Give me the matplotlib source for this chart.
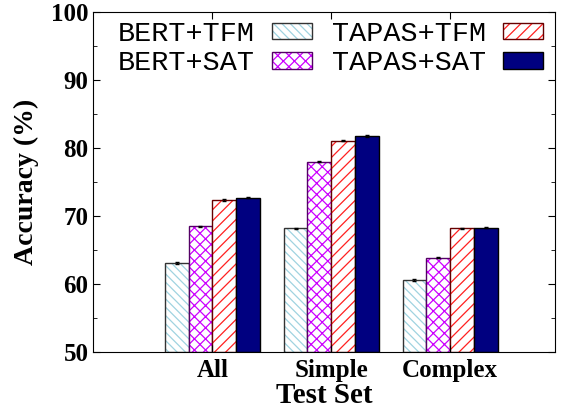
import numpy as np
import matplotlib.pyplot as plt
from matplotlib.patches import Patch
from matplotlib.legend_handler import HandlerTuple

# Datos
grupos = ["All", "Simple", "Complex"]
series = ["BERT+TFM", "BERT+SAT", "TAPAS+TFM", "TAPAS+SAT"]
bert_tfm = [63.1, 68.2, 60.6]
bert_sat = [68.5, 78.0, 63.9]
tapas_tfm = [72.4, 81.1, 68.2]
tapas_sat = [72.7, 81.8, 68.3]
errores = [0.1, 0.1, 0.1]

valores = [bert_tfm, bert_sat, tapas_tfm, tapas_sat]
hatch_col = ["#9fd3e0", "#cc00ff", "#ff2020", "#000080"]
borde = ["#333333", "#550066", "#660000", "#000000"]
hatches = ["\\\\\\\\", "xxx", "///", ""]
relleno = ["white", "white", "white", "#000080"]

plt.rcParams["hatch.linewidth"] = 0.9
serif = ["Liberation Serif", "DejaVu Serif"]

fig, ax = plt.subplots(figsize=(5.66, 4.08), dpi=100)
fig.subplots_adjust(left=0.165, right=0.98, top=0.97, bottom=0.137)

x = np.arange(1, len(grupos) + 1)
ancho = 0.2
for i, vals in enumerate(valores):
    pos = x + (i - 1.5) * ancho
    # relleno con trama del color de la serie
    ax.bar(pos, np.array(vals) - 50, ancho, bottom=50, color=relleno[i],
           hatch=hatches[i], edgecolor=hatch_col[i], linewidth=0)
    # contorno
    ax.bar(pos, np.array(vals) - 50, ancho, bottom=50, fill=False,
           edgecolor=borde[i], linewidth=1.0)
    ax.errorbar(pos, vals, yerr=errores, fmt="none", ecolor="black",
                capsize=1.5, elinewidth=0.6)

ax.set_xlim(0, 3.88)
ax.set_ylim(50, 100)
ax.set_xticks(x)
ax.set_xticklabels(grupos, fontfamily=serif, fontweight="bold", fontsize=18)
ax.set_yticks(range(50, 101, 10))
ax.set_yticks(range(55, 100, 10), minor=True)
for lab in ax.get_yticklabels():
    lab.set_fontfamily(serif)
    lab.set_fontweight("bold")
    lab.set_fontsize(18)
ax.tick_params(direction="in", top=True, right=True, length=5)
ax.tick_params(axis="x", pad=5)
ax.tick_params(which="minor", direction="in", right=True, length=3)
ax.set_ylabel("Accuracy (%)", fontfamily=serif, fontweight="bold", fontsize=20,
              labelpad=9)
ax.set_xlabel("Test Set", fontfamily=serif, fontweight="bold", fontsize=21,
              labelpad=0)

handles = []
for i in range(4):
    h1 = Patch(facecolor=relleno[i], hatch=hatches[i],
               edgecolor=hatch_col[i], linewidth=0)
    h2 = Patch(fill=False, edgecolor=borde[i], linewidth=1.0)
    handles.append((h1, h2))
leg = ax.legend(handles, series, ncol=2,
                handler_map={tuple: HandlerTuple(ndivide=1)},
                loc="upper left", bbox_to_anchor=(118 / 566, 1 - 21 / 408),
                bbox_transform=fig.transFigure, frameon=False,
                markerfirst=False, prop={"family": "Liberation Mono", "size": 20.5},
                handlelength=1.4, handleheight=0.53, handletextpad=0.6,
                columnspacing=0.7, labelspacing=0.12, borderpad=0,
                borderaxespad=0)

plt.savefig("out.png", dpi=100)
